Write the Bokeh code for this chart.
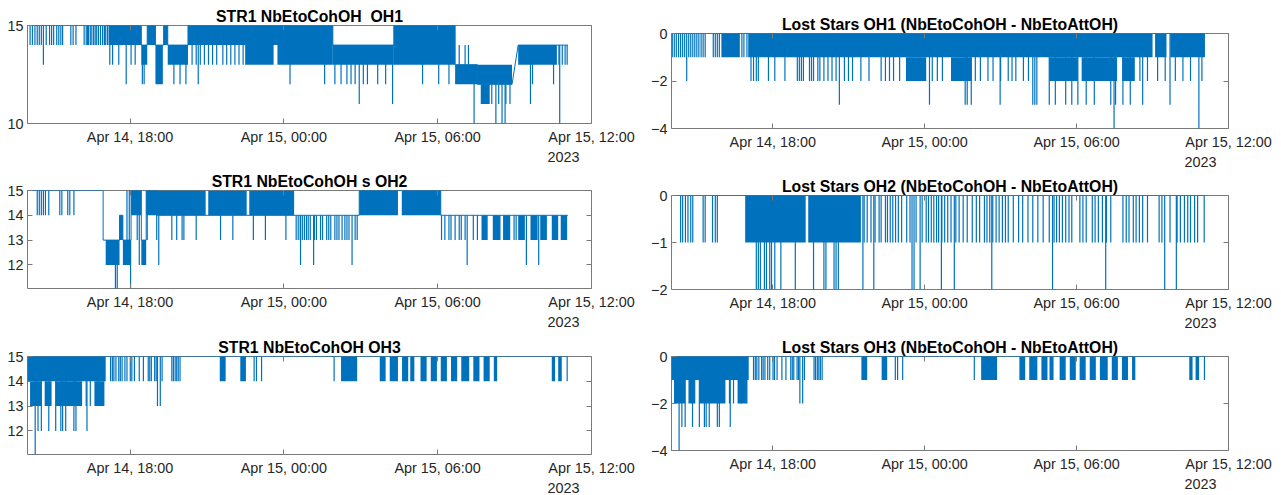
import numpy as np
from bokeh.plotting import figure
from bokeh.layouts import row, column
from bokeh.models import FixedTicker, LinearAxis, Range1d
from bokeh.embed import file_html
from bokeh.resources import INLINE

# x values: hours since 2023-04-14 14:00
NB = "\u00a0"
X_TICKS = [4, 10, 16, 22]
X_LABELS = ["Apr 14, 18:00", "Apr 15, 00:00", "Apr 15, 06:00", "Apr 15, 12:00\n2023" + NB * 14]

TITLES = ["STR1 NbEtoCohOH" + NB + " OH1", "STR1 NbEtoCohOH s OH2", "STR1 NbEtoCohOH OH3",
          "Lost Stars OH1 (NbEtoCohOH - NbEtoAttOH)",
          "Lost Stars OH2 (NbEtoCohOH - NbEtoAttOH)",
          "Lost Stars OH3 (NbEtoCohOH - NbEtoAttOH)"]

# ---------------- OH1 : NbEtoCohOH ----------------
l1_base_t = [0.00, 4.44, 4.44, 4.67, 4.67, 4.99, 4.99, 5.31, 5.31, 5.47, 5.47, 6.26, 6.26,
             11.91, 11.91, 14.29, 14.29, 16.68, 16.68, 17.55, 17.55, 18.90, 19.14, 21.08]
l1_base_v = [15, 15, 14, 14, 15, 15, 14, 14, 15, 15, 14, 14, 15,
             15, 14, 14, 15, 15, 13, 13, 12, 12, 14, 14]
l1_blk_t0 = [3.16, 4.44, 4.67, 4.99, 5.31, 5.47, 6.26, 8.49, 9.75, 11.91, 14.29, 14.29, 16.68, 17.55, 17.68, 19.14]
l1_blk_t1 = [4.44, 4.67, 4.99, 5.28, 5.47, 6.26, 11.91, 9.60, 11.91, 14.29, 16.68, 16.68, 17.55, 18.90, 18.03, 20.65]
l1_blk_lo = [14, 13, 14, 12, 14, 13, 14, 13, 13, 13, 14, 13, 12, 12, 11, 13]
l1_blk_hi = [15, 14, 15, 14, 15, 14, 15, 14, 14, 14, 15, 14, 13, 13, 12, 14]
l1_spikes = {
    14: [0.10, 0.19, 0.29, 0.38, 0.46, 0.54, 0.73, 0.86, 0.94, 1.02, 1.14, 1.22, 1.30, 1.37,
         1.69, 1.78, 1.89, 2.21, 2.29, 2.34, 2.38, 2.45, 2.51, 2.58, 2.64, 2.70, 2.77, 2.85,
         2.93, 3.00, 3.05, 3.12, 16.84, 17.07, 17.20],
    13: [0.62, 3.21, 3.32, 3.56, 4.04, 4.20, 6.42, 6.58, 6.74, 6.90, 7.06, 7.22, 7.38, 7.62,
         7.77, 7.93, 8.09, 8.25, 8.41, 20.73, 20.86, 20.97, 21.05],
    12: [3.85, 4.48, 4.55, 5.71, 5.95, 6.18, 6.66, 10.24, 11.59, 11.99, 12.23, 12.46, 12.62,
         12.78, 13.10, 13.26, 13.66, 13.97, 15.41, 16.04, 16.44, 19.70, 20.52],
    11: [12.94, 14.24, 17.79, 17.95, 18.11, 18.38, 18.66, 18.82, 19.62],
    10: [17.42, 18.27, 18.51, 18.63, 20.76],
}

# ---------------- OH2 : NbEtoCohOH ----------------
l2_base_t = [0.00, 2.95, 2.95, 3.59, 3.59, 3.72, 3.72, 4.04, 4.04, 4.44, 4.44, 4.63, 4.63,
             5.07, 5.07, 12.94, 12.94, 16.12, 16.12, 21.08]
l2_base_v = [15, 15, 13, 13, 14, 14, 13, 13, 15, 15, 13, 13, 15, 15, 14, 14, 15, 15, 14, 14]
l2_blk_t0 = [3.05, 3.59, 3.72, 4.04, 4.44, 4.63, 5.07, 7.05, 8.65, 12.94, 14.60,
             17.71, 18.15, 18.55, 19.14, 19.62, 20.00, 20.45, 20.80]
l2_blk_t1 = [3.59, 3.72, 4.04, 4.44, 4.63, 5.07, 6.95, 8.55, 10.40, 14.45, 16.12,
             17.95, 18.45, 18.83, 19.40, 19.90, 20.26, 20.70, 21.05]
l2_blk_lo = [12, 13, 12, 14, 12, 14, 14, 14, 14, 14, 14, 13, 13, 13, 13, 13, 13, 13, 13]
l2_blk_hi = [13, 14, 13, 15, 13, 15, 15, 15, 15, 15, 15, 14, 14, 14, 14, 14, 14, 14, 14]
l2_spikes = {
    14: [0.38, 0.46, 0.54, 0.62, 0.70, 0.83, 1.26, 1.34, 1.57, 1.65, 1.81],
    15: [3.88, 3.97],
    13: [4.28, 4.67, 5.04, 5.63, 5.82, 6.03, 6.10, 6.58, 7.53, 8.01, 8.81, 9.28, 10.08,
         10.48, 10.56, 10.64, 10.72, 10.80, 10.88, 10.95, 11.03, 11.19, 11.27, 11.43, 11.51,
         11.67, 11.75, 11.83, 11.99, 12.07, 12.15, 12.27, 12.38, 12.46, 12.54, 12.78, 12.86,
         16.15, 16.28, 16.44, 16.52, 16.68, 16.84, 16.92, 17.07, 17.39, 17.55, 18.98, 19.06],
    12: [4.36, 5.12, 10.65, 11.16, 12.66, 17.15, 19.46, 19.94],
    11: [3.43, 3.50, 4.02],
}

# ---------------- OH3 (shared times) ----------------
oh3_blk_t0 = [0.00, 0.10, 0.67, 1.10, 2.61, 7.50, 8.30, 12.23, 13.74, 14.13, 14.61, 14.93, 15.33,
              15.73, 16.12, 16.52, 16.92, 17.39, 17.79, 18.19, 20.45, 20.70]
oh3_blk_t1 = [3.05, 0.54, 0.94, 2.13, 3.00, 7.73, 8.52, 12.86, 13.97, 14.45, 14.85, 15.09, 15.57,
              15.97, 16.36, 16.76, 17.23, 17.63, 18.03, 18.32, 20.58, 20.84]
l3_blk_lo = [14, 13, 13, 13, 13, 14, 14, 14, 14, 14, 14, 14, 14, 14, 14, 14, 14, 14, 14, 14, 14, 14]
l3_blk_hi = [15, 14, 14, 14, 14, 15, 15, 15, 15, 15, 15, 15, 15, 15, 15, 15, 15, 15, 15, 15, 15, 15]
r3_blk_lo = [-1, -2, -2, -2, -2, -1, -1, -1, -1, -1, -1, -1, -1, -1, -1, -1, -1, -1, -1, -1, -1, -1]
r3_blk_hi = [0, -1, -1, -1, -1, 0, 0, 0, 0, 0, 0, 0, 0, 0, 0, 0, 0, 0, 0, 0, 0, 0]
oh3_spk_a = [3.24, 3.31, 3.37, 3.45, 3.56, 3.62, 3.69, 3.80, 3.88, 4.01, 4.07, 4.17, 4.36, 4.52,
             4.71, 4.77, 4.83, 4.96, 5.02, 5.25, 5.63, 5.69, 5.76, 5.82, 5.88, 5.95, 8.84, 8.93,
             9.13, 11.96, 21.05]
oh3_spk_b = [2.29, 2.45, 2.77, 5.07, 5.18]
oh3_spk_c = [0.41, 0.54, 0.83, 1.10, 1.30, 1.37, 1.49, 1.81, 1.89, 2.32]
oh3_spk_d = [0.30]
l3_base_t = [0.00, 21.08]
l3_base_v = [15, 15]
l3_spikes = {14: oh3_spk_a, 13: oh3_spk_b, 12: oh3_spk_c, 11: oh3_spk_d}
r3_base_t = [0.00, 21.07]
r3_base_v = [0, 0]
r3_spikes = {-1: oh3_spk_a, -2: oh3_spk_b, -3: oh3_spk_c, -4: oh3_spk_d}

# ---------------- Lost stars OH1 ----------------
r1_base_t = [0.00, 21.07]
r1_base_v = [0, 0]
r1_blk_t0 = [1.97, 3.03, 19.10, 19.70, 9.26, 11.04, 14.92, 16.20, 17.80]
r1_blk_t1 = [2.70, 19.00, 19.55, 21.07, 10.06, 11.85, 16.05, 17.60, 18.30]
r1_blk_lo = [-1, -1, -1, -1, -2, -2, -2, -2, -2]
r1_blk_hi = [0, 0, 0, 0, -1, -1, -1, -1, -1]
r1_spikes = {
    -1: [0.03, 0.11, 0.19, 0.28, 0.36, 0.44, 0.52, 0.68, 0.76, 0.84, 0.92, 1.00, 1.08, 1.17,
         1.25, 1.33, 1.65, 1.73, 1.81, 1.89, 2.78, 2.86, 2.98],
    -2: [0.60, 3.14, 3.24, 3.35, 3.43, 3.83, 4.08, 4.48, 4.97, 5.05, 5.13, 5.21, 5.45, 5.53,
         5.61, 5.78, 5.86, 6.02, 6.18, 6.34, 6.50, 6.83, 6.99, 7.15, 7.48, 7.80, 8.28, 8.45,
         8.61, 8.77, 9.01, 10.30, 10.50, 10.70, 12.00, 12.20, 12.50, 12.70, 13.00, 13.30,
         13.45, 13.60, 13.90, 14.10, 18.50, 18.80, 19.20, 19.50, 19.90, 20.20, 20.50, 20.95],
    -3: [6.63, 10.19, 11.60, 11.68, 11.84, 12.98, 14.27, 14.35, 14.43, 14.92, 15.16, 15.57,
         15.81, 16.05, 16.38, 16.70, 17.35, 17.54, 17.83, 18.12, 18.61, 19.69],
    -4: [17.48, 20.83],
}

# ---------------- Lost stars OH2 ----------------
r2_base_t = [0.00, 21.07]
r2_base_v = [0, 0]
r2_blk_t0 = [2.91, 5.40]
r2_blk_t1 = [5.30, 7.48]
r2_blk_lo = [-1, -1]
r2_blk_hi = [0, 0]
r2_spikes = {
    -1: [0.36, 0.44, 0.55, 0.65, 0.76, 0.84, 1.25, 1.33, 1.62, 1.73, 1.81, 7.61, 7.73, 7.88,
         8.04, 8.20, 8.28, 8.45, 8.53, 8.64, 8.74, 8.85, 8.96, 9.09, 9.29, 9.42, 9.66, 9.90,
         10.06, 10.15, 10.26, 10.36, 10.47, 10.55, 10.68, 10.79, 10.91, 11.04, 11.23, 11.36,
         11.52, 11.68, 11.88, 12.04, 12.17, 12.36, 12.46, 12.57, 12.69, 12.82, 12.94, 13.07,
         13.19, 13.30, 13.50, 13.71, 13.87, 14.08, 14.27, 14.47, 14.68, 14.92, 15.11, 15.21,
         15.32, 15.44, 15.57, 15.70, 15.81, 16.13, 16.25, 16.38, 16.62, 16.73, 16.86, 17.02,
         17.18, 17.35, 17.83, 17.96, 18.07, 18.24, 18.35, 18.48, 18.61, 18.80, 19.26, 19.37,
         19.69, 19.97, 20.10, 20.26, 20.39, 20.50, 20.66, 20.78, 21.04],
    -2: [3.35, 3.43, 3.51, 3.67, 3.75, 3.88, 3.95, 4.08, 4.32, 4.89, 5.61, 6.02, 6.10, 6.42,
         6.50, 6.59, 7.56, 7.99, 9.50, 9.58, 9.82, 10.66, 11.17, 12.65, 15.05, 17.15, 19.48, 19.94],
}

BLUE = "#0072BD"
AXC = "#7a7a7a"
TXT = "#262626"
FONT = "Liberation Sans"


def make_panel(title, base_t, base_v, b0, b1, blo, bhi, spikes, y_lo, y_hi, y_ticks,
               fw, fh, bl, br, bt, bb):
    p = figure(frame_width=fw, frame_height=fh, min_border_left=bl, min_border_right=br,
               min_border_top=bt, min_border_bottom=bb, x_range=Range1d(0, 22),
               y_range=Range1d(y_lo, y_hi), x_axis_type=None, y_axis_type=None,
               output_backend="svg", toolbar_location=None, title=title)
    p.background_fill_color = "white"
    p.border_fill_color = "white"
    p.outline_line_color = AXC
    p.outline_line_width = 1
    p.outline_line_alpha = 1
    p.title.align = "center"
    p.title.text_font = FONT
    p.title.text_font_size = "15.8px"
    p.title.text_font_style = "bold"
    p.title.text_color = "#000000"
    p.title.standoff = 2

    xt = FixedTicker(ticks=X_TICKS, minor_ticks=[])
    yt = FixedTicker(ticks=y_ticks, minor_ticks=[])
    xb = LinearAxis(ticker=xt, major_label_overrides={k: v for k, v in zip(X_TICKS, X_LABELS)})
    yl = LinearAxis(ticker=yt)
    xa = LinearAxis(ticker=xt, major_label_overrides={k: "" for k in X_TICKS})
    yr = LinearAxis(ticker=yt, major_label_overrides={k: "" for k in y_ticks})
    for ax in (xb, yl, xa, yr):
        ax.axis_line_color = None
        ax.major_tick_in = 5
        ax.major_tick_out = 0
        ax.major_tick_line_color = AXC
        ax.minor_tick_line_color = None
        ax.major_label_text_font = FONT
        ax.major_label_text_color = TXT
        ax.major_label_text_font_size = "14.4px"
    for ax in (xa, yr):
        ax.major_label_text_font_size = "0px"
        ax.major_label_standoff = 0
    xb.major_label_standoff = 5
    xb.major_label_text_line_height = 1.3
    yl.major_label_standoff = 4
    p.add_layout(xb, "below")
    p.add_layout(yl, "left")
    p.add_layout(xa, "above")
    p.add_layout(yr, "right")

    p.quad(left=b0, right=b1, bottom=blo, top=bhi, fill_color=BLUE, line_color=None)
    st, sv = [], []
    for lvl, times in spikes.items():
        st.extend(times)
        sv.extend([lvl] * len(times))
    st = np.array(st, dtype=float)
    s0 = np.interp(st, base_t, base_v)
    p.segment(x0=st, y0=s0, x1=st, y1=sv, line_color=BLUE, line_width=1.2)
    p.line(base_t, base_v, line_color=BLUE, line_width=1)
    return p


L1 = make_panel(TITLES[0], l1_base_t, l1_base_v, l1_blk_t0, l1_blk_t1, l1_blk_lo, l1_blk_hi,
                l1_spikes, 10, 15, [10, 15], 564, 98, 27, 50, 25, 44)
L2 = make_panel(TITLES[1], l2_base_t, l2_base_v, l2_blk_t0, l2_blk_t1, l2_blk_lo, l2_blk_hi,
                l2_spikes, 11.05, 15, [12, 13, 14, 15], 564, 98, 27, 50, 22, 44)
L3 = make_panel(TITLES[2], l3_base_t, l3_base_v, oh3_blk_t0, oh3_blk_t1, l3_blk_lo, l3_blk_hi,
                l3_spikes, 11.05, 15, [12, 13, 14, 15], 564, 98, 27, 50, 23, 43)
R1 = make_panel(TITLES[3], r1_base_t, r1_base_v, r1_blk_t0, r1_blk_t1, r1_blk_lo, r1_blk_hi,
                r1_spikes, -4, 0, [-4, -2, 0], 557, 95, 30, 53, 33, 44)
R2 = make_panel(TITLES[4], r2_base_t, r2_base_v, r2_blk_t0, r2_blk_t1, r2_blk_lo, r2_blk_hi,
                r2_spikes, -2, 0, [-2, -1, 0], 557, 94, 30, 53, 22, 44)
R3 = make_panel(TITLES[5], r3_base_t, r3_base_v, oh3_blk_t0, oh3_blk_t1, r3_blk_lo, r3_blk_hi,
                r3_spikes, -4, 0, [-4, -2, 0], 557, 94, 30, 53, 22, 47)

layout = row(column(L1, L2, L3, spacing=0), column(R1, R2, R3, spacing=0), spacing=0)
open("out.html", "w").write(file_html(layout, INLINE))
